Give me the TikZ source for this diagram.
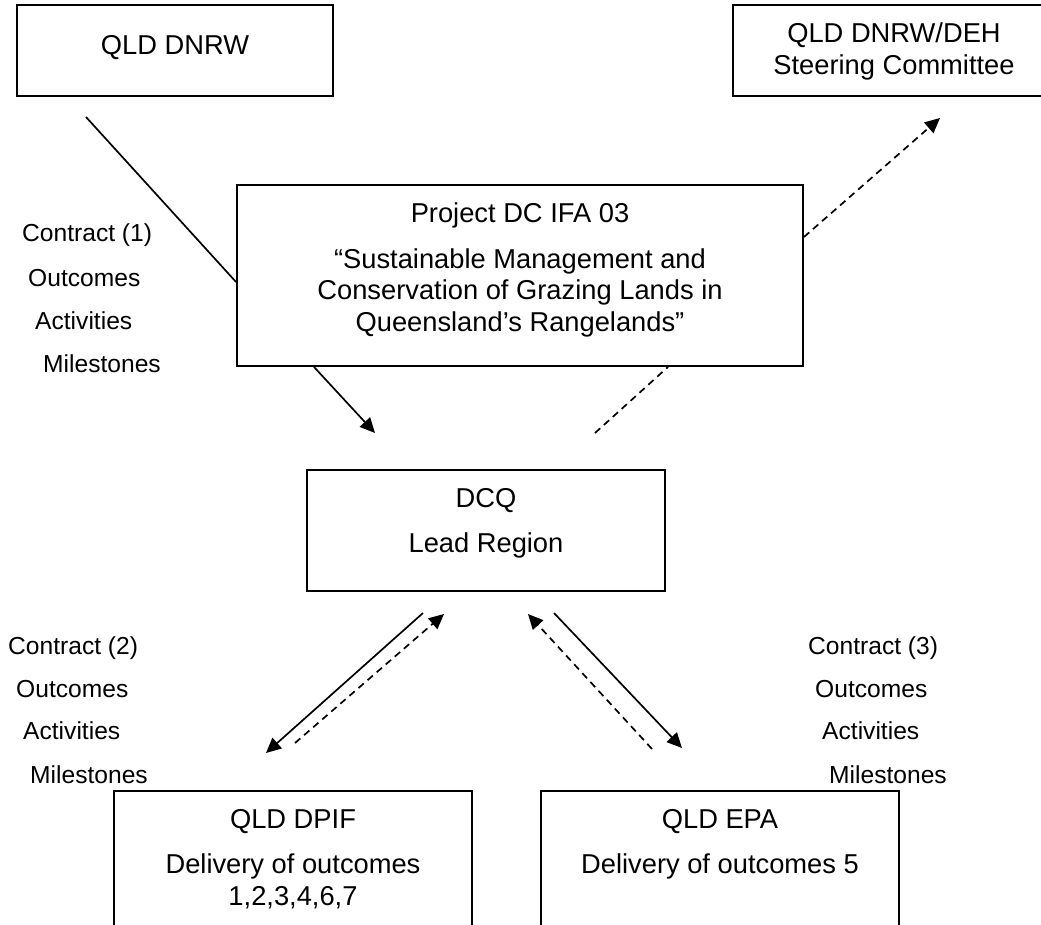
\documentclass[tikz,border=0pt]{standalone}
\usepackage{fontspec}
\setmainfont{Liberation Sans}
\usetikzlibrary{arrows.meta}

\begin{document}
\begin{tikzpicture}[x=1pt,y=-1pt,
  box/.style={draw,line width=1.9pt,inner sep=0pt},
  boxtext/.style={anchor=north,inner sep=0pt,align=center,font=\fontsize{27.3}{31.4}\selectfont},
  lbl/.style={anchor=base west,inner sep=0pt,font=\fontsize{24.6}{28}\selectfont},
  link/.style={line width=1.7pt},
  flow/.style={link,-{Triangle[length=15pt,width=14pt]}},
  back/.style={link,dash pattern=on 7pt off 5pt},
  backflow/.style={back,-{Triangle[length=15pt,width=14pt]}}]
  \clip (0,0) rectangle (1041,924);

  % boxes
  \node[box,minimum width=316pt,minimum height=91pt] (dnrw) at (175,50.5) {};
  \node[box,minimum width=322pt,minimum height=91pt] (steer) at (894,50.5) {};
  \node[box,minimum width=566pt,minimum height=181pt] (project) at (520,275.5) {};
  \node[box,minimum width=358pt,minimum height=121pt] (dcq) at (486,530.5) {};
  \node[box,minimum width=358pt,minimum height=169pt] (dpif) at (293,875.5) {};
  \node[box,minimum width=358pt,minimum height=169pt] (epa) at (720,875.5) {};

  \node[boxtext] (dnrwtext) at (175,35) {QLD DNRW};
  \node[boxtext] (steertext) at (894,23) {QLD DNRW/DEH\\Steering Committee};
  \node[boxtext] (projecttext) at (520,203) {Project DC IFA 03\\[14pt]
    “Sustainable Management and\\Conservation of Grazing Lands in\\Queensland’s Rangelands”};
  \node[boxtext] (dcqtext) at (486,488) {DCQ\\[14pt]Lead Region};
  \node[boxtext] (dpiftext) at (293,809) {QLD DPIF\\[14pt]Delivery of outcomes\\1,2,3,4,6,7};
  \node[boxtext] (epatext) at (720,809) {QLD EPA\\[14pt]Delivery of outcomes 5};

  % contract labels
  \node[lbl] (con1) at (22,241) {Contract (1)};
  \node[lbl] (out1) at (28,286) {Outcomes};
  \node[lbl] (act1) at (35,329) {Activities};
  \node[lbl] (mil1) at (43,372) {Milestones};
  \node[lbl] (con2) at (8,654) {Contract (2)};
  \node[lbl] (out2) at (16,697) {Outcomes};
  \node[lbl] (act2) at (23,739) {Activities};
  \node[lbl] (mil2) at (30,783) {Milestones};
  \node[lbl] (con3) at (808,654) {Contract (3)};
  \node[lbl] (out3) at (815,697) {Outcomes};
  \node[lbl] (act3) at (822,739) {Activities};
  \node[lbl] (mil3) at (829,783) {Milestones};

  % free ends
  \coordinate (dnrwout) at (86,117);
  \coordinate (dcqin) at (375,433);
  \coordinate (dcqout) at (595,433);
  \coordinate (steerin) at (940,118);
  \coordinate (dpifdown) at (423,613);
  \coordinate (dpifin) at (266,753);
  \coordinate (dpifout) at (295,743);
  \coordinate (dpifback) at (444,614);
  \coordinate (epaout) at (652,749);
  \coordinate (epaback) at (528,614);
  \coordinate (epadown) at (554,613);
  \coordinate (epain) at (682,748);

  \draw[link] (dnrwout) -- ([yshift=-6.5pt]project.west);
  \draw[flow] ([xshift=-206pt]project.south) -- (dcqin);
  \draw[back] (dcqout) -- ([xshift=148pt]project.south);
  \draw[backflow] ([yshift=38.5pt]project.east) -- (steerin);

  \draw[flow] (dpifdown) -- (dpifin);
  \draw[backflow] (dpifout) -- (dpifback);
  \draw[backflow] (epaout) -- (epaback);
  \draw[flow] (epadown) -- (epain);
\end{tikzpicture}
\end{document}
